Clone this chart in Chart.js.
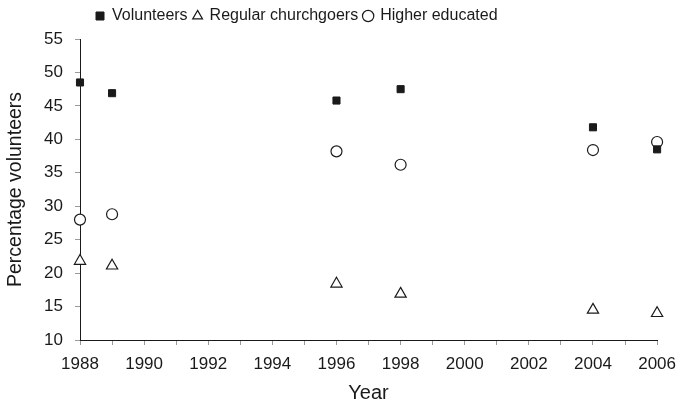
<!DOCTYPE html>
<html>
<head>
<meta charset="utf-8">
<script src="https://cdn.jsdelivr.net/npm/chart.js@4.4.1/dist/chart.umd.min.js"></script>
<style>
  html, body { margin: 0; padding: 0; background: #fff; }
  canvas { display: block; }
</style>
</head>
<body>
<canvas id="chart" width="685" height="403"></canvas>
<script>
// values
var years = [1988, 1989, 1996, 1998, 2004, 2006];
var volunteers = [48.5, 46.9, 45.8, 47.5, 41.8, 38.5];
var churchgoers = [21.8, 21.1, 18.4, 16.9, 14.5, 14.0];
var higherEducated = [28.0, 28.8, 38.2, 36.2, 38.4, 39.6];
var seriesNames = ['Volunteers', 'Regular churchgoers', 'Higher educated'];
var yTicks = { min: 10, max: 55, step: 5 };
var xTicks = { min: 1988, max: 2006, step: 1, labelEvery: 2 };

var FONT = '"Liberation Sans", Arial, sans-serif';
var INK = '#1a1a1a';

function toPoints(values) {
    return values.map(function (v, i) { return { x: years[i], y: v }; });
}

// push the legend so it starts over the plot, like the original
var legendShift = {
    id: 'legendShift',
    afterLayout: function (chart) {
        chart.legend.left = 90;
        chart.legend.top = 2;
    }
};

new Chart(document.getElementById('chart'), {
    type: 'scatter',
    data: {
        datasets: [{
            label: seriesNames[0],
            data: toPoints(volunteers),
            pointStyle: 'rect',
            pointRadius: 5,
            backgroundColor: INK,
            borderColor: INK,
            borderWidth: 1,
            clip: false
        }, {
            label: seriesNames[1],
            data: toPoints(churchgoers),
            pointStyle: 'triangle',
            pointRadius: 6.5,
            backgroundColor: '#fff',
            borderColor: INK,
            borderWidth: 1.2,
            clip: false
        }, {
            label: seriesNames[2],
            data: toPoints(higherEducated),
            pointStyle: 'circle',
            pointRadius: 5.5,
            backgroundColor: '#fff',
            borderColor: INK,
            borderWidth: 1.2,
            clip: false
        }]
    },
    options: {
        responsive: false,
        animation: false,
        devicePixelRatio: 1,
        layout: { padding: { left: 0, right: 20, top: 0, bottom: 0 } },
        plugins: {
            tooltip: { enabled: false },
            legend: {
                position: 'top',
                align: 'start',
                labels: {
                    usePointStyle: true,
                    boxWidth: 8,
                    boxHeight: 8,
                    padding: 6,
                    color: INK,
                    font: { family: FONT, size: 16 }
                }
            },
            // empty spacer between legend and plot
            subtitle: {
                display: true,
                text: '',
                weight: 500,
                padding: 0,
                font: { size: 7, lineHeight: 1 }
            }
        },
        scales: {
            x: {
                type: 'linear',
                min: xTicks.min,
                max: xTicks.max,
                afterFit: function (scale) { scale.height = 63; },
                border: { color: INK, width: 1 },
                grid: { drawOnChartArea: false, tickLength: 5, color: '#9a9a9a' },
                ticks: {
                    stepSize: xTicks.step,
                    autoSkip: false,
                    maxRotation: 0,
                    padding: 9,
                    color: INK,
                    font: { family: FONT, size: 17 },
                    callback: function (v) {
                        return (v - xTicks.min) % xTicks.labelEvery === 0 ? String(v) : '';
                    }
                },
                title: {
                    display: true,
                    text: 'Year',
                    color: INK,
                    padding: { top: 7, bottom: 0 },
                    font: { family: FONT, size: 20, lineHeight: 1 }
                }
            },
            y: {
                min: yTicks.min,
                max: yTicks.max,
                afterFit: function (scale) { scale.width = 80; },
                border: { color: INK, width: 1 },
                grid: { drawOnChartArea: false, tickLength: 5, color: '#9a9a9a' },
                ticks: {
                    stepSize: yTicks.step,
                    padding: 12,
                    color: INK,
                    font: { family: FONT, size: 17 }
                },
                title: {
                    display: true,
                    text: 'Percentage volunteers',
                    color: INK,
                    padding: { top: 6, bottom: 4 },
                    font: { family: FONT, size: 19.5, lineHeight: 1 }
                }
            }
        }
    },
    plugins: [legendShift]
});
</script>
</body>
</html>
